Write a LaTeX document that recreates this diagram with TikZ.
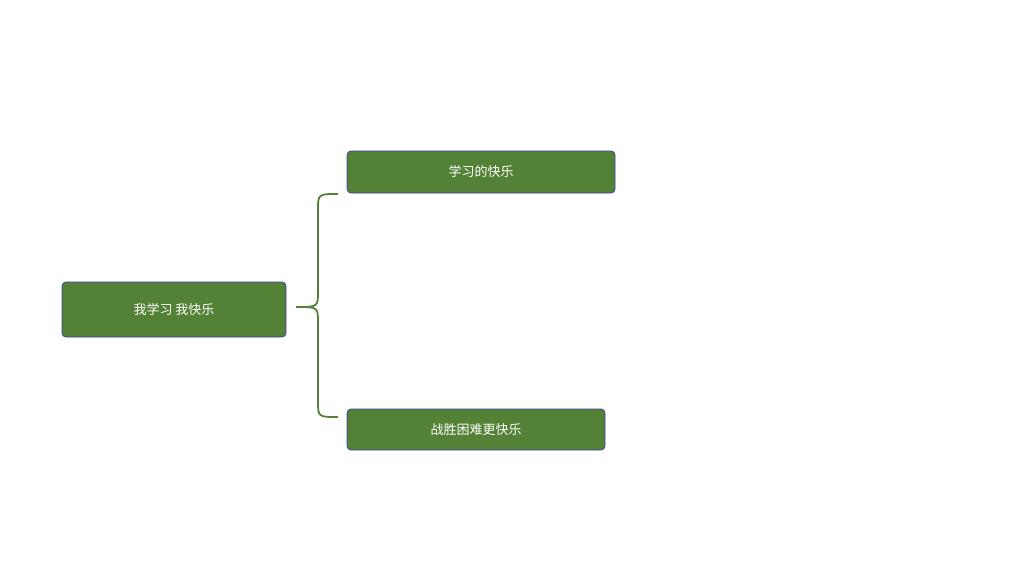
\documentclass[tikz,border=0pt]{standalone}
\usepackage{fontspec}
\newfontfamily\cjk{Noto Sans CJK SC}
\begin{document}
\begin{tikzpicture}[x=1pt,y=-1pt,
  box/.style={draw=blue!45!gray!90!black,line width=0.8pt,fill=gboxfill,rounded corners=4pt,text=white,font=\cjk\fontsize{13}{15}\selectfont,inner sep=0pt}]
\definecolor{gboxfill}{HTML}{538135}
\definecolor{brc}{HTML}{548235}
\useasboundingbox (0,0) rectangle (1024,576);
\node[box,minimum width=224pt,minimum height=55pt] (root) at (174,309.5) {我学习 我快乐};
\node[box,minimum width=268pt,minimum height=42pt] (a) at (481,172) {学习的快乐};
\node[box,minimum width=258pt,minimum height=41pt] (b) at (476,429.5) {战胜困难更快乐};
\coordinate (bt) at (338,194);
\coordinate (bb) at (338,417);
\coordinate (tip) at (296,307);
\draw[brc,line width=1.8pt] (bt) .. controls (318,194) and (318,194) .. (318,210)
  -- (318,291) .. controls (318,307) and (318,307) .. (tip)
  .. controls (318,307) and (318,307) .. (318,323) -- (318,401)
  .. controls (318,417) and (318,417) .. (bb);
\end{tikzpicture}
\end{document}
